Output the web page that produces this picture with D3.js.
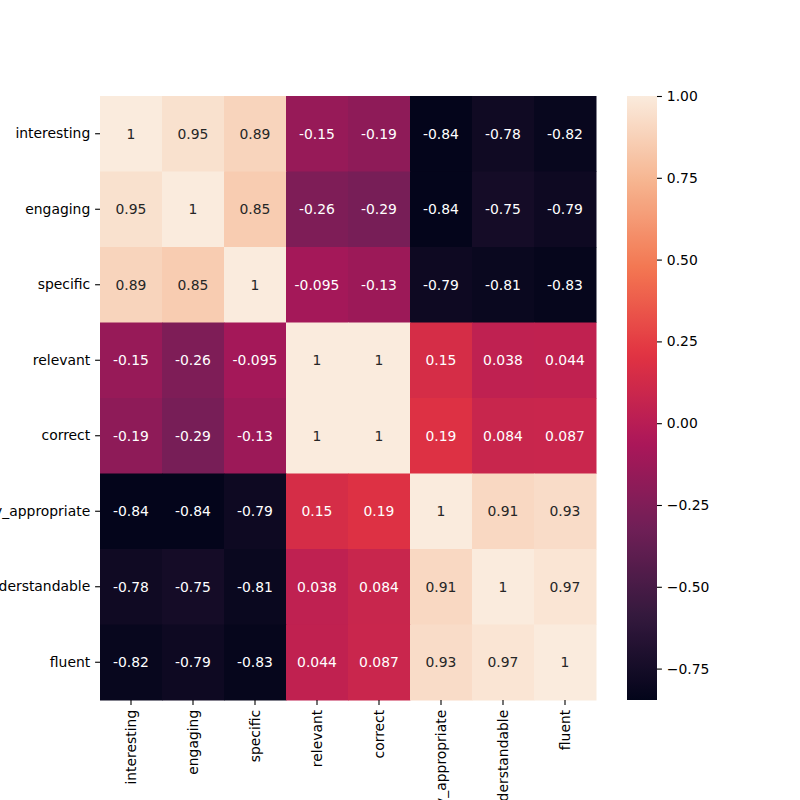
<!DOCTYPE html>
<html>
<head>
<meta charset="utf-8">
<script src="https://cdn.jsdelivr.net/npm/d3@7"></script>
<style>
  body { margin: 0; background: #fff; }
  svg { font-family: "DejaVu Sans", sans-serif; }
</style>
</head>
<body>
<div id="chart"></div>
<script>
// correlation matrix, rows and columns share the same labels
const labels = ["interesting", "engaging", "specific", "relevant", "correct",
  "semantically_appropriate", "understandable", "fluent"];

const interesting = [1, 0.95, 0.89, -0.15, -0.19, -0.84, -0.78, -0.82];
const engaging = [0.95, 1, 0.85, -0.26, -0.29, -0.84, -0.75, -0.79];
const specific = [0.89, 0.85, 1, -0.095, -0.13, -0.79, -0.81, -0.83];
const relevant = [-0.15, -0.26, -0.095, 1, 1, 0.15, 0.038, 0.044];
const correct = [-0.19, -0.29, -0.13, 1, 1, 0.19, 0.084, 0.087];
const appropriate = [-0.84, -0.84, -0.79, 0.15, 0.19, 1, 0.91, 0.93];
const understandable = [-0.78, -0.75, -0.81, 0.038, 0.084, 0.91, 1, 0.97];
const fluent = [-0.82, -0.79, -0.83, 0.044, 0.087, 0.93, 0.97, 1];

const rows = [interesting, engaging, specific, relevant, correct, appropriate, understandable, fluent];
const cbTicks = [1.00, 0.75, 0.50, 0.25, 0.00, -0.25, -0.50, -0.75];

const vmin = -0.846, vmax = 1;

// rocket palette stops
const rocket = ["#03051a", "#35193e", "#701f57", "#ad1759", "#e13342", "#f37651", "#f6b48f", "#faebdd"];
const color = d3.scaleLinear()
  .domain(rocket.map((c, i) => vmin + (vmax - vmin) * i / (rocket.length - 1)))
  .range(rocket)
  .interpolate(d3.interpolateRgb)
  .clamp(true);

const svg = d3.select("#chart")
  .append("svg")
  .attr("width", 800)
  .attr("height", 800);

const mLeft = 100, mRight = 596, mTop = 96, mBottom = 700;

const x = d3.scaleBand().domain(labels).range([mLeft, mRight]);
const y = d3.scaleBand().domain(labels).range([mTop, mBottom]);

const cells = [];
rows.forEach((r, i) => r.forEach((v, j) => cells.push({ row: labels[i], col: labels[j], v })));

const lum = c => {
  const rgb = d3.rgb(c);
  const f = u => { u /= 255; return u <= 0.03928 ? u / 12.92 : Math.pow((u + 0.055) / 1.055, 2.4); };
  return 0.2126 * f(rgb.r) + 0.7152 * f(rgb.g) + 0.0722 * f(rgb.b);
};

svg.append("g")
  .selectAll("rect")
  .data(cells)
  .join("rect")
  .attr("x", d => x(d.col))
  .attr("y", d => y(d.row))
  .attr("width", x.bandwidth() + 0.5)
  .attr("height", y.bandwidth() + 0.5)
  .attr("fill", d => color(d.v));

svg.append("g")
  .selectAll("text")
  .data(cells)
  .join("text")
  .attr("x", d => x(d.col) + x.bandwidth() / 2)
  .attr("y", d => y(d.row) + y.bandwidth() / 2)
  .attr("text-anchor", "middle")
  .attr("dominant-baseline", "central")
  .style("font-size", "13.9px")
  .attr("fill", d => lum(color(d.v)) > 0.408 ? "#262626" : "#ffffff")
  .text(d => d3.format(".2~g")(d.v).replace("−", "-"));

// axes
const yAxis = svg.append("g")
  .attr("transform", `translate(${mLeft},0)`)
  .call(d3.axisLeft(y).tickSize(4.9).tickPadding(4.9));
const xAxis = svg.append("g")
  .attr("transform", `translate(0,${mBottom})`)
  .call(d3.axisBottom(x).tickSize(4.9).tickPadding(4.9));

[xAxis, yAxis].forEach(g => {
  g.select(".domain").remove();
  g.selectAll(".tick line").attr("stroke", "#000").attr("stroke-width", 1.1);
  g.selectAll(".tick text")
    .attr("fill", "#000")
    .style("font-size", "13.9px")
    .style("font-family", "DejaVu Sans");
});

xAxis.selectAll(".tick text")
  .attr("transform", "rotate(-90)")
  .attr("text-anchor", "end")
  .attr("x", -9.8)
  .attr("y", 0)
  .attr("dy", "0.35em");

// colorbar as a vertical gradient
const cbX = 627, cbW = 30;
const cbScale = d3.scaleLinear().domain([vmin, vmax]).range([mBottom, mTop]);

const grad = svg.append("defs")
  .append("linearGradient")
  .attr("id", "cbGrad")
  .attr("x1", 0).attr("x2", 0)
  .attr("y1", 1).attr("y2", 0);
grad.selectAll("stop")
  .data(d3.range(0, 65).map(i => i / 64))
  .join("stop")
  .attr("offset", t => t)
  .attr("stop-color", t => color(vmin + (vmax - vmin) * t));

svg.append("rect")
  .attr("x", cbX)
  .attr("y", cbScale(vmax))
  .attr("width", cbW)
  .attr("height", cbScale(vmin) - cbScale(vmax))
  .attr("fill", "url(#cbGrad)");

const cbAxis = svg.append("g")
  .attr("transform", `translate(${cbX + cbW},0)`)
  .call(d3.axisRight(cbScale).tickValues(cbTicks).tickFormat(d3.format(".2f"))
    .tickSize(4.9).tickPadding(4.9));
cbAxis.select(".domain").remove();
cbAxis.selectAll(".tick line").attr("stroke", "#000").attr("stroke-width", 1.1);
cbAxis.selectAll(".tick text")
  .attr("fill", "#000")
  .style("font-size", "13.9px")
  .style("font-family", "DejaVu Sans");
</script>
</body>
</html>
